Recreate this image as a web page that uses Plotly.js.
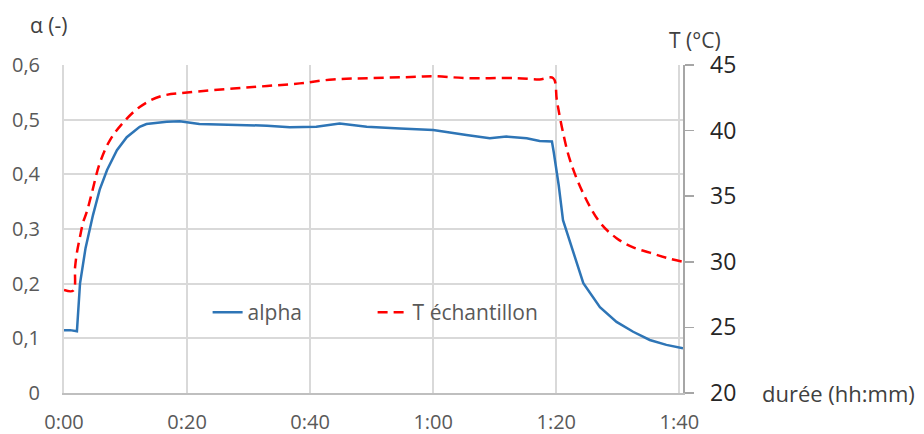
<!DOCTYPE html>
<html><head><meta charset="utf-8">
<script src="https://cdn.plot.ly/plotly-3.0.1.min.js"></script>
<style>body{margin:0;background:#fff}#c{width:924px;height:434px}</style>
</head><body><div id="c"></div>
<script>
const tAlpha = [0, 1, 2.1, 2.6, 3.5, 4.7, 5.8, 7.0, 8.6, 10.2, 12.3, 13.4, 16.7, 18.8, 22, 27.5, 33, 36.7, 41, 44.8, 49.2, 54.6, 60, 65.4, 69.2, 71.9, 75.2, 77.3, 79.3, 79.6, 80.4, 81.1, 82.8, 84.4, 87.1, 89.8, 92.5, 95.2, 97.9, 100.6];
const alpha = [0.115, 0.115, 0.113, 0.200, 0.265, 0.325, 0.372, 0.408, 0.444, 0.468, 0.487, 0.492, 0.496, 0.497, 0.492, 0.490, 0.489, 0.486, 0.487, 0.493, 0.487, 0.484, 0.481, 0.472, 0.466, 0.469, 0.466, 0.461, 0.460, 0.440, 0.380, 0.316, 0.256, 0.201, 0.157, 0.130, 0.112, 0.097, 0.088, 0.082];
const tTemp = [0, 1.5, 1.8, 2.1, 2.6, 3.1, 3.7, 4.5, 5.8, 7.5, 9.6, 12.3, 15.6, 20, 27.5, 33, 38.3, 43.7, 50, 57.3, 60, 65.5, 73.6, 77.3, 79.5, 80.1, 80.9, 82.2, 84.4, 87.1, 89.8, 92.5, 95.2, 97.9, 100.6];
const temp = [27.85, 27.8, 29.6, 30.7, 31.9, 33.0, 33.8, 35.2, 37.5, 39.3, 40.6, 41.8, 42.6, 42.9, 43.2, 43.4, 43.6, 43.9, 44.0, 44.1, 44.15, 44.0, 44.0, 43.9, 44.0, 42.3, 40.3, 37.8, 35.2, 33.0, 31.8, 31.1, 30.7, 30.3, 30.0];
const xTickVals = [0, 20, 40, 60, 80, 100];
const xTickText = ['0:00', '0:20', '0:40', '1:00', '1:20', '1:40'];
const yTickVals = [0, 0.1, 0.2, 0.3, 0.4, 0.5, 0.6];
const yTickText = ['0', '0,1', '0,2', '0,3', '0,4', '0,5', '0,6'];
const y2TickVals = [20, 25, 30, 35, 40, 45];

const FONT = '"Open Sans", sans-serif';
const traces = [
  {x: tAlpha, y: alpha, name: 'alpha', type: 'scatter', mode: 'lines',
   line: {color: '#2E75B6', width: 2.5}, yaxis: 'y'},
  {x: tTemp, y: temp, name: 'T échantillon', type: 'scatter', mode: 'lines',
   line: {color: '#FF0000', width: 2.5, dash: '10px,6px', shape: 'spline'}, yaxis: 'y2'}
];
const layout = {
  width: 924, height: 434,
  margin: {l: 64, r: 241, t: 65, b: 41},
  paper_bgcolor: '#fff', plot_bgcolor: '#fff',
  font: {family: FONT, color: '#595959', size: 19},
  showlegend: true,
  legend: {orientation: 'h', x: 0.232, y: 0.245, xanchor: 'left', yanchor: 'middle',
           bgcolor: 'rgba(0,0,0,0)', font: {size: 21, color: '#595959'}, entrywidth: 120},
  xaxis: {range: [0, 100.6], tickvals: xTickVals, ticktext: xTickText,
          showgrid: true, gridcolor: '#d9d9d9', gridwidth: 2,
          showline: true, linecolor: '#bfbfbf', linewidth: 2, zeroline: false,
          ticks: 'outside', ticklen: 10, tickcolor: 'rgba(0,0,0,0)',
          tickfont: {size: 20, color: '#595959'}},
  yaxis: {range: [0, 0.6], tickvals: yTickVals, ticktext: yTickText,
          showgrid: true, gridcolor: '#d9d9d9', gridwidth: 2,
          showline: true, linecolor: '#d9d9d9', linewidth: 2, zeroline: false,
          ticks: 'outside', ticklen: 18, tickcolor: 'rgba(0,0,0,0)',
          tickfont: {size: 20, color: '#595959'}},
  yaxis2: {range: [20, 45], tickvals: y2TickVals, overlaying: 'y', side: 'right',
           showgrid: false, zeroline: false, showline: true, linecolor: '#a6a6a6', linewidth: 1.5,
           ticks: 'outside', ticklen: 9, tickcolor: '#a6a6a6', tickwidth: 1.5,
           ticklabelstandoff: 12,
           tickfont: {size: 23, color: '#262626'}},
  annotations: [
    {text: 'α (-)', xref: 'paper', yref: 'paper', x: 0, xshift: -36, y: 1.0, yshift: 40,
     xanchor: 'left', yanchor: 'middle', showarrow: false, font: {size: 21, color: '#404040'}},
    {text: 'T (°C)', xref: 'paper', yref: 'paper', x: 1.0, xshift: -16, y: 1.0, yshift: 25,
     xanchor: 'left', yanchor: 'middle', showarrow: false, font: {size: 21, color: '#404040'}},
    {text: 'durée (hh:mm)', xref: 'paper', yref: 'paper', x: 1.0, xshift: 77, y: 0,
     xanchor: 'left', yanchor: 'middle', showarrow: false, font: {size: 22, color: '#404040'}}
  ]
};
Plotly.newPlot('c', traces, layout, {displayModeBar: false, staticPlot: true});
</script></body></html>
